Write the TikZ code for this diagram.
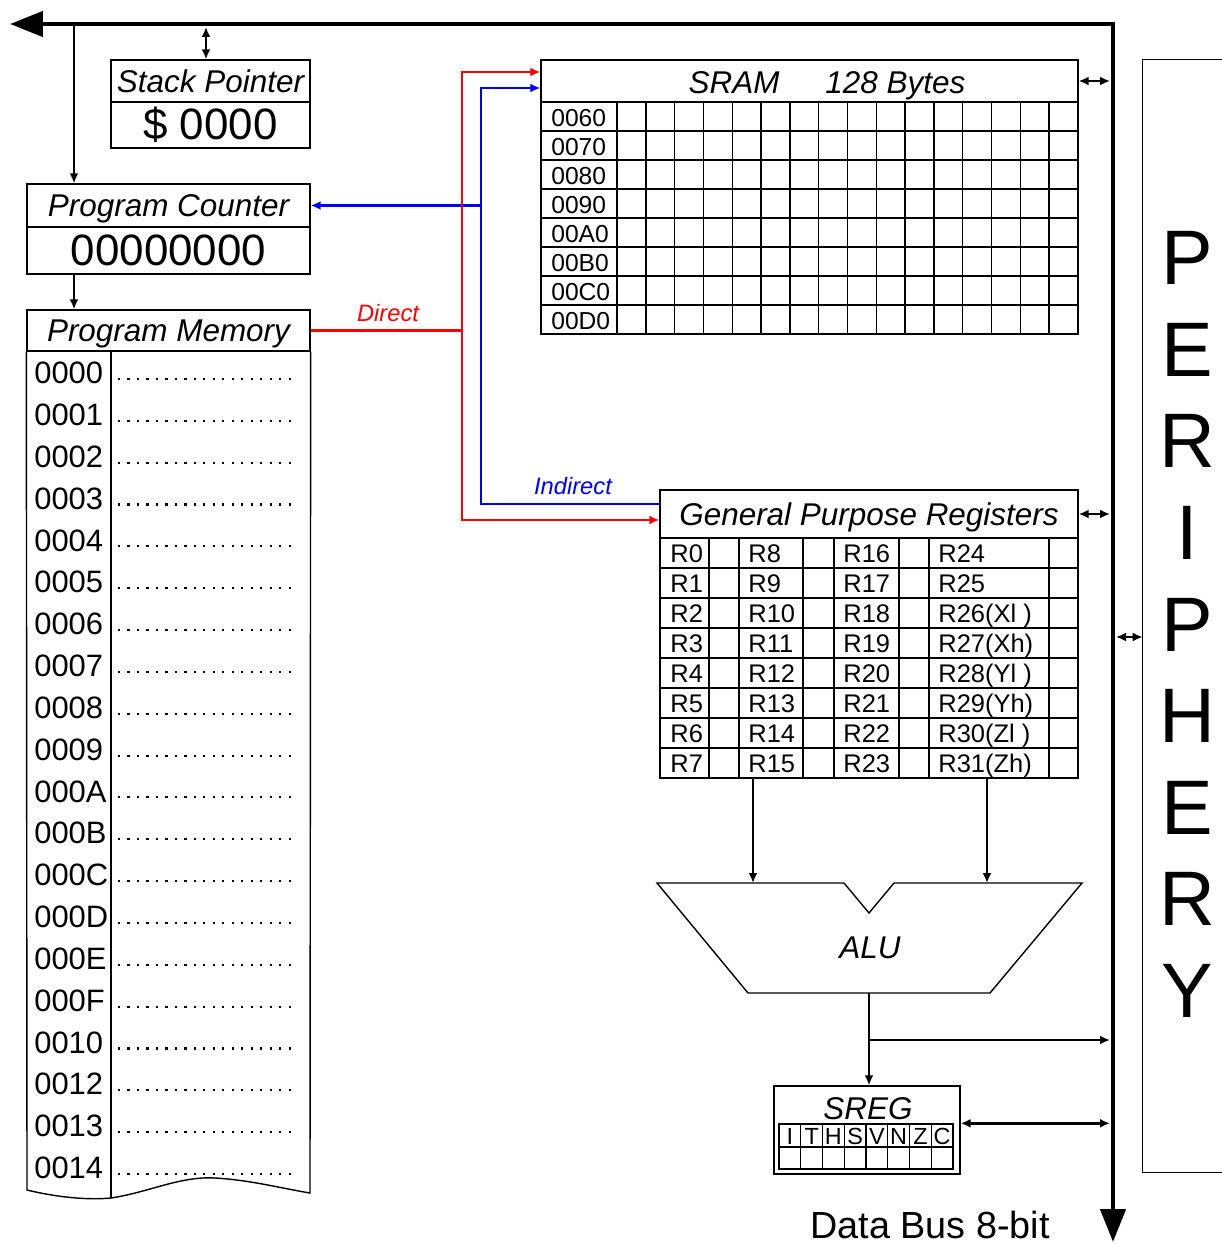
\documentclass[tikz,border=0pt]{standalone}
\usepackage{fontspec}
\setmainfont{Liberation Sans}
\usetikzlibrary{arrows.meta, calc}

\begin{document}
\begin{tikzpicture}[
    x=0.02cm, y=-0.02cm,
    >={Latex[length=2mm, width=1.8mm]},
    % --- Node styles ---
    box/.style={draw, line width=0.8pt, inner sep=0pt},
    hdr/.style={box, font=\fontsize{17.9pt}{20pt}\selectfont\itshape,
        text height=12.8pt, text depth=0pt},
    ttl/.style={inner sep=0pt, font=\fontsize{17.9pt}{20pt}\selectfont\itshape,
        text height=12.8pt, text depth=0pt},
    val/.style={box, font=\fontsize{25pt}{28pt}\selectfont},
    cell/.style={inner sep=0pt, anchor=west},
    pml/.style={cell, font=\fontsize{17.6pt}{20pt}\selectfont},
    sml/.style={cell, font=\fontsize{14pt}{16pt}\selectfont},
    gpl/.style={cell, font=\fontsize{14.5pt}{16pt}\selectfont, text height=10.4pt, text depth=0pt},
    bit/.style={inner sep=0pt, font=\fontsize{13.3pt}{15pt}\selectfont},
    plt/.style={inner sep=0pt, font=\fontsize{44pt}{48pt}\selectfont},
    grid/.style={line width=0.8pt},
    % --- Arrow styles ---
    arr/.style={->, line width=1.4pt},
    darr/.style={<->, line width=1.4pt},
    rline/.style={draw=red, line width=1.4pt},
    rarr/.style={rline, ->},
    bline/.style={draw=blue, line width=1.4pt},
    barr/.style={bline, ->},
    bus/.style={line width=2.6pt,
        {Triangle[length=0.66cm, width=0.5cm]}-{Triangle[length=0.66cm, width=0.5cm]}},
    % --- Annotation styles ---
    rlbl/.style={inner sep=0pt, text=red, font=\fontsize{13.5pt}{15pt}\selectfont\itshape},
    blbl/.style={inner sep=0pt, text=blue, font=\fontsize{13.5pt}{15pt}\selectfont\itshape},
]
\useasboundingbox (0,0) rectangle (1222,1244);

% =============================================
% LEFT COLUMN: stack pointer, PC, program memory
% =============================================

\node[hdr, minimum width=3.98cm, minimum height=0.84cm] (spHead) at (210.5, 81) {Stack Pointer};
\node[val, minimum width=3.98cm, minimum height=0.92cm] (spVal) at (210.5, 125) {\$ 0000};

\node[hdr, minimum width=5.66cm, minimum height=0.86cm] (pcHead) at (168.5, 205.5) {Program Counter};
\node[val, minimum width=5.66cm, minimum height=0.94cm] (pcVal) at (168.5, 250.5) {00000000};

\node[hdr, minimum width=5.66cm, minimum height=0.82cm] (pmHead) at (168.5, 330.5) {Program Memory};

% Program memory body with torn bottom edge
\draw[grid] (pmHead.south west) -- (27, 1190)
    .. controls (60, 1198) and (90, 1200) .. (111, 1198)
    .. controls (150, 1192) and (180, 1176) .. (215, 1178)
    .. controls (250, 1180) and (280, 1188) .. (310, 1193)
    -- (pmHead.south east);
\draw[grid] (111, 351) -- (111, 1198);

\foreach \lbl [count=\i from 0] in {0000,0001,0002,0003,0004,0005,0006,0007,0008,0009,
        000A,000B,000C,000D,000E,000F,0010,0012,0013,0014} {
    \node[pml] (pm\i) at (34, 373 + 41.84*\i) {\lbl};
    \draw[line width=1.2pt, dash pattern=on 1.2pt off 4.2pt]
        (118, 379 + 41.84*\i) -- (292, 379 + 41.84*\i);
}

% =============================================
% SRAM
% =============================================

\node[box, minimum width=10.74cm, minimum height=0.84cm] (sramHead) at (809.5, 81) {};
\node[ttl] (sramTtl) at (827, 82) {SRAM\hspace{0.92cm}128 Bytes};
\node[box, minimum width=10.74cm, minimum height=4.64cm] (sramBody) at (809.5, 218) {};

\foreach \r in {1,...,7}
    \draw[grid] (541, 102 + 29*\r) -- (1078, 102 + 29*\r);
\foreach \c in {0,...,15}
    \draw[grid] (617 + 28.8125*\c, 102) -- (617 + 28.8125*\c, 334);
\foreach \lbl [count=\i from 0] in {0060,0070,0080,0090,00A0,00B0,00C0,00D0}
    \node[sml] (sr\i) at (551, 118.5 + 29*\i) {\lbl};

% =============================================
% GENERAL PURPOSE REGISTERS
% =============================================

\node[hdr, minimum width=8.36cm, minimum height=0.96cm] (gprHead) at (869, 514) {General Purpose Registers};
\node[box, minimum width=8.36cm, minimum height=4.8cm] (gprBody) at (869, 658) {};

\foreach \r in {1,...,7}
    \draw[grid] (660, 538 + 30*\r) -- (1078, 538 + 30*\r);
\foreach \x in {709, 739, 803, 834, 899, 929, 1049}
    \draw[grid] (\x, 538) -- (\x, 778);

\foreach \i in {0,...,7} {
    \pgfmathtruncatemacro{\ra}{\i + 8}
    \pgfmathtruncatemacro{\rb}{\i + 16}
    \node[gpl] (ga\i) at (670, 553 + 30*\i) {R\i};
    \node[gpl] (gb\i) at (748, 553 + 30*\i) {R\ra};
    \node[gpl] (gc\i) at (843, 553 + 30*\i) {R\rb};
}
\foreach \lbl [count=\i from 0] in {R24, R25, R26(Xl ), R27(Xh), R28(Yl ), R29(Yh), R30(Zl ), R31(Zh)}
    \node[gpl] (gd\i) at (938, 553 + 30*\i) {\lbl};

% =============================================
% ALU and SREG
% =============================================

\draw[line width=0.8pt] (657, 883) -- (844, 883) -- (869, 913) -- (894, 883) -- (1082, 883)
    -- (990, 993) -- (748, 993) -- cycle;
\node[ttl] (alu) at (870, 947) {ALU};
\coordinate (aluInL) at (753, 883);
\coordinate (aluInR) at (987, 883);
\coordinate (aluOut) at (869, 993);
\coordinate (aluJ) at (869, 1040);

\node[box, minimum width=3.72cm, minimum height=1.76cm] (sreg) at (867, 1130) {};
\node[ttl] (sregTtl) at (868, 1108) {SREG};
\node[box, minimum width=3.48cm, minimum height=0.9cm] (sregBits) at (866, 1146.5) {};
\draw[grid] (779, 1147) -- (953, 1147);
\foreach \b [count=\i from 0] in {I,T,H,S,V,N,Z,C} {
    \node[bit] (sb\i) at (779 + 21.75*\i + 10.9, 1136) {\b};
    \ifnum\i>0 \draw[grid] (779 + 21.75*\i, 1124) -- (779 + 21.75*\i, 1169); \fi
}

% =============================================
% PERIPHERY
% =============================================

\node[minimum width=1.58cm, minimum height=22.24cm, inner sep=0pt] (perif) at (1182.5, 616) {};
\draw[line width=0.8pt] (perif.north east) -- (perif.north west) -- (perif.south west) -- (perif.south east);
\foreach \ch [count=\i from 0] in {P,E,R,I,P,H,E,R,Y}
    \node[plt] (pl\i) at (1187, 258 + 91.6*\i) {\ch};

% =============================================
% DATA BUS
% =============================================

\coordinate (busL) at (10, 24);
\coordinate (busTR) at (1113, 24);
\coordinate (busB) at (1113, 1242);
\coordinate (busIn) at (1110, 24);
\coordinate (busOut) at (1116, 637);
\coordinate (pcTap) at (74, 24);
\coordinate (spTap) at (206, 27);

\draw[bus] (busL) -- (busTR) -- (busB);
\node[inner sep=0pt, font=\fontsize{21.5pt}{24pt}\selectfont, text height=15.4pt, text depth=0pt]
    (busLbl) at (930, 1225) {Data Bus 8-bit};

% =============================================
% ARROWS
% =============================================

\draw[arr] (pcTap) -- (pcTap |- pcHead.north);
\draw[darr] (spTap) -- (spTap |- spHead.north);
\draw[arr] (pcVal.south -| pcTap) -- (pmHead.north -| pcTap);

% Indirect addressing (blue)
\coordinate (inTop) at (481, 88);
\coordinate (inMid) at (481, 205.5);
\coordinate (inBot) at (481, 504);
\draw[barr] (inMid) -- (inTop) -- (inTop -| sramHead.west);
\draw[barr] (inMid) -- (pcHead.east);
\draw[bline] (inMid) -- (inBot) -- (inBot -| gprHead.west);
\node[blbl] (indLbl) at (573, 486) {Indirect};

% Direct addressing (red)
\coordinate (rdTop) at (462, 72);
\coordinate (rdJoin) at (462, 330.5);
\coordinate (rdBot) at (462, 520);
\draw[rline] (pmHead.east) -- (rdJoin);
\draw[rarr] (rdJoin) -- (rdTop) -- (rdTop -| sramHead.west);
\draw[rarr] (rdJoin) -- (rdBot) -- (rdBot -| gprHead.west);
\node[rlbl] (dirLbl) at (388, 313) {Direct};

% Bus connections
\draw[darr] (sramHead.east) -- (sramHead.east -| busIn);
\draw[darr] (gprHead.east) -- (gprHead.east -| busIn);
\draw[darr] (sreg.east |- sregBits.north) -- (busIn |- sregBits.north);
\draw[darr] (busOut) -- (busOut -| perif.west);

% Registers -> ALU -> SREG / bus
\draw[arr] (gprBody.south -| aluInL) -- (aluInL);
\draw[arr] (gprBody.south -| aluInR) -- (aluInR);
\draw[arr] (aluOut) -- (aluOut |- sreg.north);
\draw[arr] (aluJ) -- (aluJ -| busIn);

\end{tikzpicture}
\end{document}
